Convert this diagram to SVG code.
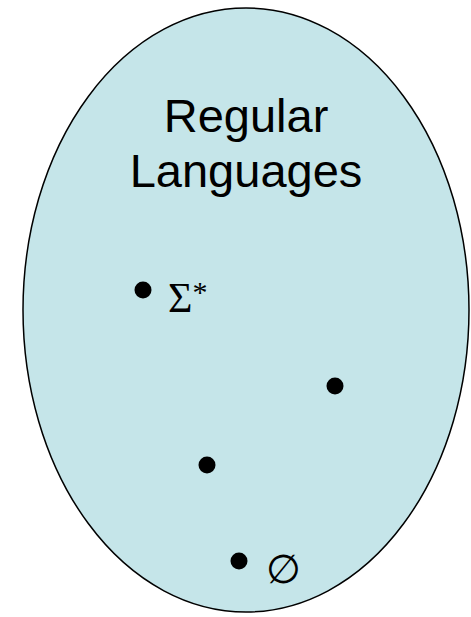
<svg xmlns="http://www.w3.org/2000/svg" width="471" height="617" viewBox="0 0 471 617">
<style>
.title{font-family:"Liberation Sans",Arial,sans-serif;font-size:47px;fill:#000;text-anchor:middle}
.sym{font-family:"Liberation Serif","DejaVu Serif",serif;fill:#000}
.dot{fill:#000}
</style>
<g id="regular-languages">
<ellipse cx="246" cy="310" rx="223" ry="302" fill="#c5e5e9" stroke="#000" stroke-width="1.5"/>
<text class="title" x="246" y="132">Regular</text>
<text class="title" x="246" y="187">Languages</text>
</g>
<g id="sigma-star">
<circle class="dot" cx="143" cy="290" r="8.5"/>
<text class="sym" x="168" y="312" font-size="42">Σ<tspan font-size="30" dy="-10">*</tspan></text>
</g>
<g id="lang-a"><circle class="dot" cx="335" cy="386" r="8.5"/></g>
<g id="lang-b"><circle class="dot" cx="207" cy="465" r="8.5"/></g>
<g id="empty">
<circle class="dot" cx="239" cy="561" r="8.5"/>
<text class="sym" x="266" y="583" font-size="40">∅</text>
</g>
<g id="connectors"/>
</svg>
